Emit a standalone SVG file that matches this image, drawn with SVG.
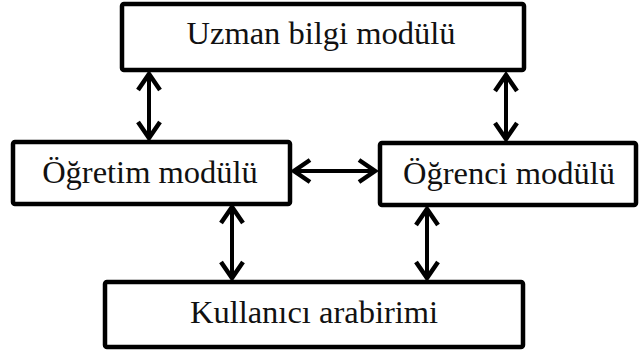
<svg xmlns="http://www.w3.org/2000/svg" width="641" height="353" viewBox="0 0 641 353">
<style>
.box{fill:#fff;stroke:#000;stroke-width:4.5;}
.lbl{font-family:'Liberation Serif','Times New Roman',serif;font-size:32.5px;fill:#111;text-anchor:middle;}
.con{stroke:#000;stroke-width:4;fill:none;}
</style>
<defs>
<marker id="ah" viewBox="-20 -14 24 28" markerWidth="24" markerHeight="28" refX="0" refY="0" orient="auto-start-reverse" markerUnits="userSpaceOnUse">
<path d="M -16 -11 L 0 0 L -16 11" fill="none" stroke="#000" stroke-width="4.5" stroke-linejoin="miter"/>
</marker>
</defs>
<rect width="641" height="353" fill="#fff"/>
<g id="connectors">
<line class="con" x1="149" y1="74" x2="149" y2="138" marker-start="url(#ah)" marker-end="url(#ah)"/>
<line class="con" x1="506" y1="75" x2="506" y2="139" marker-start="url(#ah)" marker-end="url(#ah)"/>
<line class="con" x1="294" y1="171" x2="375" y2="171" marker-start="url(#ah)" marker-end="url(#ah)"/>
<line class="con" x1="232" y1="207" x2="232" y2="278" marker-start="url(#ah)" marker-end="url(#ah)"/>
<line class="con" x1="427" y1="209" x2="427" y2="278" marker-start="url(#ah)" marker-end="url(#ah)"/>
</g>
<g id="uzman">
<rect class="box" x="122" y="4" width="402" height="66" rx="2"/>
<text class="lbl" x="321" y="44">Uzman bilgi modülü</text>
</g>
<g id="ogretim">
<rect class="box" x="13" y="142" width="277" height="62" rx="2"/>
<text class="lbl" x="150" y="183">Öğretim modülü</text>
</g>
<g id="ogrenci">
<rect class="box" x="380" y="143" width="256" height="62" rx="2"/>
<text class="lbl" x="509" y="184">Öğrenci modülü</text>
</g>
<g id="kullanici">
<rect class="box" x="105" y="282" width="418" height="65" rx="2"/>
<text class="lbl" x="314" y="323">Kullanıcı arabirimi</text>
</g>
</svg>
